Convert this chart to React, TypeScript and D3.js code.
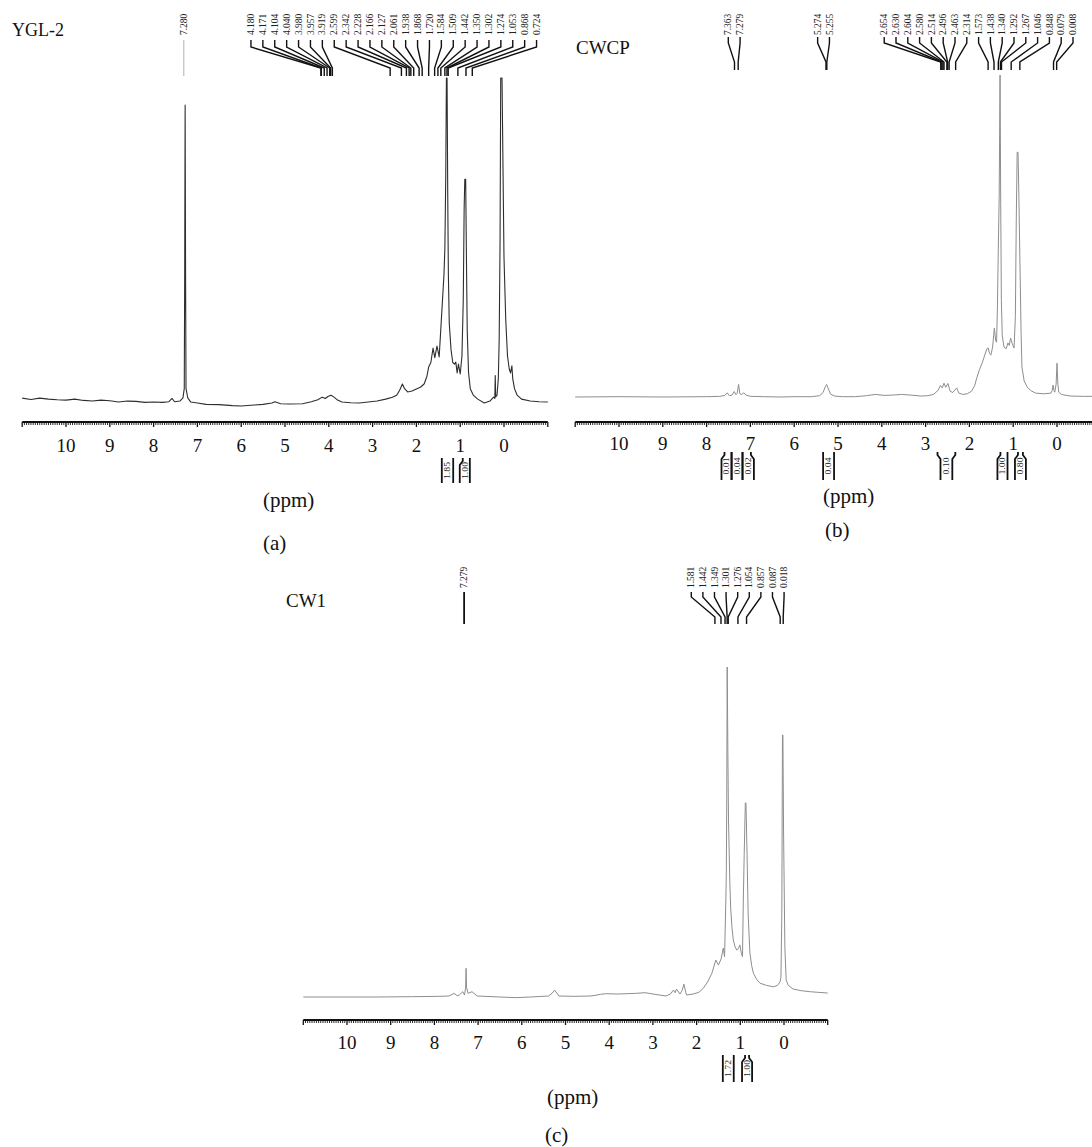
import React from "react";
import * as d3 from "d3";

type Pt = [number, number];
type Integral = [number, number, string];

// ---------- DATA ----------
const tickValues = d3.range(0, 11); // 0 … 10 ppm labels

// (a) YGL-2 spectrum: [ppm, relative intensity]
const specYGL2: Pt[] = [
  [11.0, 2.1], [10.8, 1.7], [10.6, 2.1], [10.4, 1.8], [10.2, 1.6], [10.0, 1.5], [9.8, 1.8], [9.6, 1.4],
  [9.4, 1.2], [9.2, 1.5], [9.0, 1.3], [8.8, 0.9], [8.6, 1.2], [8.4, 1.1], [8.2, 0.8], [8.0, 0.9],
  [7.8, 0.8], [7.65, 1.0], [7.58, 2.0], [7.52, 1.0], [7.4, 1.2], [7.33, 2.2],
  [7.3, 5], [7.29, 40], [7.28, 91.7], [7.27, 40], [7.26, 5], [7.22, 2.2], [7.15, 0.9], [7.0, 0.6],
  [6.8, 0.2], [6.5, 0.1], [6.2, -0.2], [6.0, -0.3], [5.7, 0.0], [5.5, 0.2], [5.3, 0.6], [5.23, 1.0],
  [5.1, 0.4], [4.9, 0.3], [4.6, 0.4], [4.4, 1.0], [4.25, 1.6], [4.15, 2.4], [4.08, 2.0], [4.02, 2.6],
  [3.95, 3.0], [3.88, 2.4], [3.8, 1.5], [3.7, 0.9], [3.5, 0.7], [3.3, 0.6], [3.1, 0.9], [2.9, 1.2],
  [2.7, 1.8], [2.55, 2.4], [2.45, 3.0], [2.38, 4.6], [2.32, 6.4], [2.27, 5.0], [2.2, 4.0], [2.1, 4.3],
  [2.0, 4.9], [1.9, 5.5], [1.82, 6.5], [1.76, 8.8], [1.72, 11.6], [1.67, 13.0], [1.62, 17.4], [1.58, 14.5],
  [1.53, 18.0], [1.48, 14.7], [1.44, 23.9], [1.4, 33], [1.37, 40], [1.35, 48], [1.33, 70], [1.315, 100],
  [1.3, 100], [1.285, 65], [1.27, 40], [1.25, 25], [1.21, 17], [1.17, 13], [1.13, 12.5], [1.1, 13.1],
  [1.07, 9.8], [1.04, 12.5], [1.0, 9.5], [0.96, 15], [0.93, 32], [0.91, 60], [0.895, 69], [0.875, 69],
  [0.86, 48], [0.84, 23], [0.81, 10], [0.77, 5], [0.7, 3], [0.6, 1.8], [0.45, 0.6], [0.32, 1.2],
  [0.24, 2.4], [0.21, 2.0], [0.2, 9], [0.19, 2.5], [0.16, 3], [0.13, 8], [0.11, 20], [0.09, 50],
  [0.075, 100], [0.045, 100], [0.025, 75], [0.0, 45], [-0.04, 26], [-0.08, 15], [-0.12, 11], [-0.15, 9.8],
  [-0.18, 12], [-0.2, 8], [-0.24, 5], [-0.3, 3], [-0.4, 1.8], [-0.6, 1.2], [-0.8, 1.0], [-1.0, 0.9],
];

// (b) CWCP spectrum
const specCWCP: Pt[] = [
  [11.0, 0], [10.0, 0.1], [9.0, 0], [8.0, 0.1], [7.7, 0.2], [7.58, 0.5], [7.53, 1.3], [7.48, 0.4],
  [7.42, 0.6], [7.37, 1.7], [7.33, 0.7], [7.3, 1.2], [7.27, 3.9], [7.24, 1.0], [7.2, 0.8], [7.15, 1.3],
  [7.1, 0.6], [7.0, 0.2], [6.7, 0.1], [6.3, 0], [6.0, 0.1], [5.6, 0.1], [5.42, 0.4], [5.34, 1.4],
  [5.29, 3.2], [5.26, 3.9], [5.22, 2.5], [5.17, 0.9], [5.08, 0.3], [4.9, 0.1], [4.6, 0.1], [4.35, 0.4],
  [4.15, 0.8], [3.95, 0.5], [3.75, 0.6], [3.55, 0.8], [3.35, 0.6], [3.1, 0.3], [2.95, 0.4], [2.82, 0.8],
  [2.72, 2.0], [2.66, 3.6], [2.62, 2.8], [2.58, 4.3], [2.54, 3.0], [2.49, 4.2], [2.44, 1.8], [2.38, 1.4],
  [2.33, 2.2], [2.29, 2.8], [2.24, 1.2], [2.15, 0.8], [2.05, 1.0], [1.95, 1.8], [1.88, 3.5], [1.83, 6.0],
  [1.77, 8.5], [1.71, 10.5], [1.65, 13], [1.6, 15], [1.57, 15.2], [1.54, 13.5], [1.51, 13], [1.47, 15.5],
  [1.43, 21.4], [1.4, 17.5], [1.38, 17], [1.36, 28], [1.34, 46], [1.32, 62], [1.3, 100], [1.285, 60],
  [1.27, 30], [1.25, 19], [1.21, 15.5], [1.16, 15], [1.12, 16.8], [1.09, 16], [1.06, 18.3], [1.02, 16.5],
  [0.98, 15.2], [0.95, 25], [0.93, 55], [0.91, 76], [0.89, 76], [0.87, 62], [0.85, 45], [0.82, 20],
  [0.8, 9.3], [0.75, 5], [0.68, 3.1], [0.6, 2.0], [0.49, 1.2], [0.3, 1.0], [0.14, 1.2], [0.11, 2.0],
  [0.09, 3.7], [0.07, 2.0], [0.05, 1.5], [0.02, 4], [0.0, 10.5], [-0.02, 4], [-0.04, 1.5], [-0.1, 0.8],
  [-0.3, 0.3], [-0.6, 0.2], [-0.8, 0.2], [-1.0, 0.2],
];

// (c) CW1 spectrum
const specCW1: Pt[] = [
  [11.0, 0], [10.0, 0], [9.3, 0], [8.5, 0.1], [7.9, 0.2], [7.67, 0.3], [7.55, 1.1], [7.48, 0.4],
  [7.43, 0.6], [7.35, 1.6], [7.31, 0.6], [7.285, 3], [7.275, 8.7], [7.265, 3], [7.23, 1.1], [7.14, 1.6],
  [7.02, 0.3], [6.5, 0], [6.13, -0.2], [5.8, 0], [5.39, 0.3], [5.3, 1.2], [5.25, 2.1], [5.2, 1.2],
  [5.15, 0.3], [4.8, 0.2], [4.42, 0.3], [4.2, 0.8], [4.08, 1.0], [3.8, 0.9], [3.59, 1.0], [3.4, 1.1],
  [3.18, 1.3], [2.95, 0.8], [2.7, 0.3], [2.6, 0.9], [2.53, 2.1], [2.49, 1.3], [2.46, 2.4], [2.38, 0.9],
  [2.33, 2.0], [2.29, 3.9], [2.25, 1.5], [2.23, 0.6], [2.08, 0.9], [1.95, 1.4], [1.85, 2.6], [1.75, 4.5],
  [1.65, 7.2], [1.56, 11.2], [1.5, 9.7], [1.44, 11.5], [1.39, 14.8], [1.36, 12.2], [1.33, 30], [1.32, 37.5],
  [1.31, 60], [1.3, 100], [1.285, 75], [1.27, 53.6], [1.24, 35], [1.22, 27], [1.19, 21], [1.16, 17.3],
  [1.12, 15.2], [1.08, 14.2], [1.04, 14.8], [1.01, 15.8], [0.98, 13.5], [0.95, 12.2], [0.93, 30], [0.91, 43.5],
  [0.885, 58.8], [0.87, 58.8], [0.845, 43], [0.82, 25], [0.78, 13.3], [0.74, 9.5], [0.7, 7.2], [0.62, 5.2],
  [0.55, 4.2], [0.4, 3.5], [0.24, 3.1], [0.15, 3.5], [0.09, 4.6], [0.07, 6], [0.05, 25], [0.035, 79.4],
  [0.025, 79.4], [0.01, 50], [-0.02, 15], [-0.05, 5.1], [-0.1, 3.5], [-0.21, 2.4], [-0.4, 1.9], [-0.6, 1.6],
  [-0.8, 1.4], [-1.0, 1.2],
];

// peak-pick labels
const labelsYGL2Solvent = ["7.280"];
const labelsYGL2Main = [
  "4.180", "4.171", "4.104", "4.040", "3.980", "3.957", "3.919", "2.599", "2.342", "2.228", "2.166",
  "2.127", "2.061", "1.938", "1.868", "1.720", "1.584", "1.509", "1.442", "1.350", "1.302", "1.274",
  "1.053", "0.868", "0.724",
];
const labelsCWCPAromatic = ["7.363", "7.279"];
const labelsCWCPOlefin = ["5.274", "5.255"];
const labelsCWCPAliphatic = [
  "2.654", "2.630", "2.604", "2.580", "2.514", "2.496", "2.463", "2.314", "1.573", "1.438", "1.340",
  "1.292", "1.267", "1.046", "0.848", "0.079", "0.008",
];
const labelsCW1Solvent = ["7.279"];
const labelsCW1Aliphatic = ["1.581", "1.442", "1.349", "1.301", "1.276", "1.054", "0.857", "0.087", "0.018"];

// label-fan centres (ppm)
const centresYGL2 = [7.31, 2.517];
const centresCWCP = [7.37, 5.33, 1.79];
const centresCW1 = [7.32, 1.06];

// integrals: [from ppm, to ppm, value]
const integralsYGL2: Integral[] = [[1.42, 1.16, "1.85"], [1.01, 0.78, "1.00"]];
const integralsCWCP: Integral[] = [
  [7.66, 7.43, "0.01"], [7.43, 7.18, "0.04"], [7.18, 6.92, "0.02"], [5.34, 5.09, "0.04"],
  [2.66, 2.39, "0.10"], [1.36, 1.13, "1.00"], [0.96, 0.71, "0.80"],
];
const integralsCW1: Integral[] = [[1.40, 1.15, "1.72"], [0.96, 0.73, "1.00"]];

// ---------- LAYOUT / STYLE ----------
const SERIF = "'Liberation Serif', 'Times New Roman', serif";

type Group = { labels: string[]; centre: number; straight?: boolean; color?: string; width?: number };

type PanelCfg = {
  title: string; titleX: number; titleY: number; titleSize: number;
  xLeft: number; xRight: number;
  axisY: number; baseY: number; topY: number; tickLabelY: number;
  ppmX: number; ppmY: number; letter: string; letterX: number; letterY: number;
  intTop: number; intBot: number; intKinks: [number, number][];
  textBottom: number; t1: number; t2: number; t3: number; t4: number; spacing: number;
  lineColor: string; lineWidth: number;
  spec: Pt[]; groups: Group[]; integrals: Integral[];
};

const panels: PanelCfg[] = [
  {
    title: "YGL-2", titleX: 12, titleY: 36, titleSize: 18,
    xLeft: 22.2, xRight: 547.8,
    axisY: 422, baseY: 405, topY: 78, tickLabelY: 452,
    ppmX: 263, ppmY: 507, letter: "(a)", letterX: 263, letterY: 550,
    intTop: 458, intBot: 483, intKinks: [[0, 0], [1, 0]],
    textBottom: 35, t1: 40, t2: 47, t3: 68, t4: 76, spacing: 11.9,
    lineColor: "#2e2e2e", lineWidth: 1.1,
    spec: specYGL2,
    groups: [
      { labels: labelsYGL2Solvent, centre: centresYGL2[0], straight: true, color: "#a8a8a8", width: 0.9 },
      { labels: labelsYGL2Main, centre: centresYGL2[1] },
    ],
    integrals: integralsYGL2,
  },
  {
    title: "CWCP", titleX: 576, titleY: 54, titleSize: 19,
    xLeft: 575.2, xRight: 1100.8,
    axisY: 422, baseY: 397, topY: 75, tickLabelY: 450,
    ppmX: 823, ppmY: 503, letter: "(b)", letterX: 825, letterY: 537,
    intTop: 452, intBot: 480, intKinks: [[1, 0], [0, 0], [0, 1], [0, 0], [-1, -1], [1, 0], [1, 1]],
    textBottom: 35, t1: 37, t2: 43, t3: 62, t4: 70, spacing: 11.8,
    lineColor: "#8e8e8e", lineWidth: 1,
    spec: specCWCP,
    groups: [
      { labels: labelsCWCPAromatic, centre: centresCWCP[0] },
      { labels: labelsCWCPOlefin, centre: centresCWCP[1] },
      { labels: labelsCWCPAliphatic, centre: centresCWCP[2] },
    ],
    integrals: integralsCWCP,
  },
  {
    title: "CW1", titleX: 286, titleY: 607, titleSize: 19,
    xLeft: 303.3, xRight: 827.7,
    axisY: 1020, baseY: 997, topY: 667, tickLabelY: 1049,
    ppmX: 547, ppmY: 1104, letter: "(c)", letterX: 545, letterY: 1142,
    intTop: 1055, intBot: 1082, intKinks: [[0, 0], [1, 1]],
    textBottom: 588, t1: 592, t2: 597, t3: 617, t4: 624, spacing: 11.6,
    lineColor: "#8e8e8e", lineWidth: 1,
    spec: specCW1,
    groups: [
      { labels: labelsCW1Solvent, centre: centresCW1[0], straight: true, color: "#111", width: 1.8 },
      { labels: labelsCW1Aliphatic, centre: centresCW1[1] },
    ],
    integrals: integralsCW1,
  },
];

function Panel({ cfg }: { cfg: PanelCfg }) {
  const x = d3.scaleLinear().domain([11, -1]).range([cfg.xLeft, cfg.xRight]);
  const y = d3.scaleLinear().domain([0, 100]).range([cfg.baseY, cfg.topY]);
  const line = d3.line<Pt>().x((d) => x(d[0])).y((d) => y(d[1]));
  const minor = d3.range(-20, 221).map((i) => ({ v: i / 20, major: i % 20 === 0 }));

  const kinkBar = (xp: number, k: number, dir: number) => {
    if (!k) return `M${xp},${cfg.intTop}L${xp},${cfg.intBot}`;
    const off = 3 * k * dir;
    return `M${xp + off},${cfg.intTop}L${xp + off},${cfg.intTop + 3}L${xp},${cfg.intTop + 7}L${xp},${cfg.intBot}`;
  };

  return (
    <g>
      <text x={cfg.titleX} y={cfg.titleY} fontFamily={SERIF} fontSize={cfg.titleSize} fill="#111">
        {cfg.title}
      </text>

      {/* peak labels */}
      {cfg.groups.map((g, gi) => {
        const n = g.labels.length;
        const cx = x(g.centre);
        return (
          <g key={gi}>
            {g.labels.map((lab, i) => {
              const lx = g.straight ? cx : cx + (i - (n - 1) / 2) * cfg.spacing;
              const px = x(parseFloat(lab));
              const d = g.straight
                ? `M${lx},${cfg.t1}L${lx},${cfg.t4}`
                : `M${lx},${cfg.t1}L${lx},${cfg.t2}L${px},${cfg.t3}L${px},${cfg.t4}`;
              return (
                <g key={i}>
                  <text
                    transform={`translate(${lx},${cfg.textBottom}) rotate(-90)`}
                    dy="0.33em"
                    fontFamily={SERIF}
                    fontSize={9.5}
                    fill="#222"
                  >
                    {lab}
                  </text>
                  <path
                    d={d}
                    fill="none"
                    stroke={g.straight ? g.color : "#111"}
                    strokeWidth={g.straight ? g.width : 1.4}
                  />
                </g>
              );
            })}
          </g>
        );
      })}

      {/* spectrum */}
      <path d={line(cfg.spec) || ""} fill="none" stroke={cfg.lineColor} strokeWidth={cfg.lineWidth} strokeLinejoin="round" />

      {/* axis */}
      <line x1={x(11)} x2={x(-1)} y1={cfg.axisY} y2={cfg.axisY} stroke="#111" strokeWidth={2.2} />
      {minor.map((t, i) => (
        <line
          key={i}
          x1={x(t.v)}
          x2={x(t.v)}
          y1={cfg.axisY}
          y2={cfg.axisY + (t.major ? 5 : 3)}
          stroke="#111"
          strokeWidth={t.major ? 1.3 : 0.9}
        />
      ))}
      {tickValues.map((v) => (
        <text key={v} x={x(v)} y={cfg.tickLabelY} textAnchor="middle" fontFamily={SERIF} fontSize={19} fill="#111">
          {v}
        </text>
      ))}

      {/* integrals */}
      {cfg.integrals.map((it, i) => {
        const xa = x(it[0]);
        const xb = x(it[1]);
        const k = cfg.intKinks[i] || [0, 0];
        const mid = (cfg.intTop + cfg.intBot) / 2;
        return (
          <g key={i}>
            <path d={kinkBar(xa, k[0], 1)} fill="none" stroke="#111" strokeWidth={1.8} />
            <path d={kinkBar(xb, k[1], -1)} fill="none" stroke="#111" strokeWidth={1.8} />
            <text
              transform={`translate(${(xa + xb) / 2},${mid}) rotate(-90)`}
              dy="0.35em"
              textAnchor="middle"
              fontFamily={SERIF}
              fontSize={8}
              textLength={17}
              lengthAdjust="spacingAndGlyphs"
              fill="#222"
            >
              {it[2]}
            </text>
          </g>
        );
      })}

      <text x={cfg.ppmX} y={cfg.ppmY} fontFamily={SERIF} fontSize={21} fill="#111">
        (ppm)
      </text>
      <text x={cfg.letterX} y={cfg.letterY} fontFamily={SERIF} fontSize={21} fill="#111">
        {cfg.letter}
      </text>
    </g>
  );
}

export default function App() {
  return (
    <svg
      width={1092}
      height={1147}
      viewBox="0 0 1092 1147"
      style={{ position: "absolute", left: 0, top: 0, background: "#fff" }}
    >
      <rect x={0} y={0} width={1092} height={1147} fill="#fff" />
      {panels.map((p, i) => (
        <Panel key={i} cfg={p} />
      ))}
    </svg>
  );
}
